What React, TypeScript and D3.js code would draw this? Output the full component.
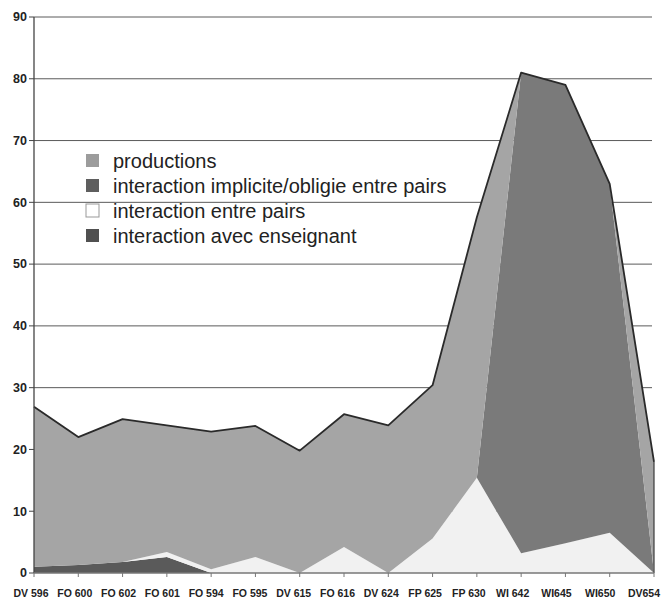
import React from "react";
import * as d3 from "d3";

const categories = ["DV 596", "FO 600", "FO 602", "FO 601", "FO 594", "FO 595", "DV 615", "FO 616", "DV 624", "FP 625", "FP 630", "WI 642", "WI645", "WI650", "DV654"];
const enseignant = [1, 1.3, 1.8, 2.6, 0, 0, 0, 0, 0, 0, 0, 0, 0, 0, 0];
const pairs = [0, 0, 0, 0.8, 0.6, 2.6, 0, 4.2, 0, 5.6, 15.4, 3.2, 4.8, 6.5, 0];
const implicite = [0, 0, 0, 0, 0, 0, 0, 0, 0, 0, 0, 77.8, 74.2, 56.5, 0];
const productions = [25.9, 20.7, 23.1, 20.5, 22.3, 21.2, 19.8, 21.5, 23.9, 24.8, 42.2, 0, 0, 0, 18];
const yTicks = [0, 10, 20, 30, 40, 50, 60, 70, 80, 90];

const seriesKeys = ["enseignant", "pairs", "implicite", "productions"];
const seriesColors: Record<string, string> = {
  enseignant: "#5a5a5a",
  pairs: "#f1f1f1",
  implicite: "#7a7a7a",
  productions: "#a5a5a5",
};
const legendItems = [
  { key: "productions", label: "productions", color: "#9c9c9c", stroke: "none" },
  { key: "implicite", label: "interaction implicite/obligie entre pairs", color: "#5e5e5e", stroke: "none" },
  { key: "pairs", label: "interaction entre pairs", color: "#ffffff", stroke: "#999" },
  { key: "enseignant", label: "interaction avec enseignant", color: "#505050", stroke: "none" },
];

export default function App() {
  const W = 664, H = 601;
  const x = d3.scalePoint<string>().domain(categories).range([34, 654]);
  const xLabel = d3.scalePoint<string>().domain(categories).range([31, 644]);
  const y = d3.scaleLinear().domain([0, 90]).range([573, 17]);

  const rows = categories.map((c, i) => ({
    cat: c,
    enseignant: enseignant[i],
    pairs: pairs[i],
    implicite: implicite[i],
    productions: productions[i],
  }));
  const stacked = d3.stack<any>().keys(seriesKeys)(rows);
  const area = d3
    .area<any>()
    .x((d) => x(d.data.cat) as number)
    .y0((d) => y(d[0]))
    .y1((d) => y(d[1]));
  const top = stacked[stacked.length - 1];
  const topLine = d3
    .line<any>()
    .x((d) => x(d.data.cat) as number)
    .y((d) => y(d[1]));
  const lastX = x(categories[categories.length - 1]) as number;
  const lastTop = y(top[top.length - 1][1]);

  const font = "'Liberation Sans', Arial, sans-serif";

  return (
    <svg width={W} height={H} style={{ position: "absolute", left: 0, top: 0, background: "#fff" }} fontFamily={font}>
      <rect x={0} y={0} width={W} height={H} fill="#fff" />
      {yTicks.slice(1).map((t) => (
        <line key={t} x1={34} x2={652} y1={y(t)} y2={y(t)} stroke="#5a5a5a" strokeWidth={1} />
      ))}
      {stacked.map((s) => (
        <path key={s.key} d={area(s) || ""} fill={seriesColors[s.key]} />
      ))}
      <path d={topLine(top) || ""} fill="none" stroke="#2a2a2a" strokeWidth={1.8} strokeLinejoin="round" />
      <line x1={lastX} x2={lastX} y1={lastTop} y2={y(0)} stroke="#3a3a3a" strokeWidth={1.2} />
      {/* axes */}
      <line x1={34} x2={34} y1={y(90)} y2={y(0)} stroke="#444" strokeWidth={1.3} />
      <line x1={34} x2={654} y1={y(0)} y2={y(0)} stroke="#777" strokeWidth={1.3} />
      {yTicks.map((t) => (
        <g key={t}>
          <line x1={29} x2={34} y1={y(t)} y2={y(t)} stroke="#444" />
          <text x={27} y={y(t)} dy="0.35em" textAnchor="end" fontSize={12.5} fontWeight="bold" fill="#222">
            {t}
          </text>
        </g>
      ))}
      {categories.map((c) => (
        <line key={c} x1={x(c)} x2={x(c)} y1={y(0)} y2={y(0) + 4} stroke="#777" />
      ))}
      {categories.map((c) => (
        <text key={c} x={xLabel(c)} y={597} textAnchor="middle" fontSize={10.5} fontWeight="bold" fill="#222">
          {c}
        </text>
      ))}
      {legendItems.map((it, i) => {
        const cy = 160.5 + i * 25;
        return (
          <g key={it.key}>
            <rect x={86} y={cy - 6.5} width={13} height={13} fill={it.color} stroke={it.stroke} />
            <text x={113} y={cy} dy="0.35em" fontSize={20} fill="#222">
              {it.label}
            </text>
          </g>
        );
      })}
    </svg>
  );
}
